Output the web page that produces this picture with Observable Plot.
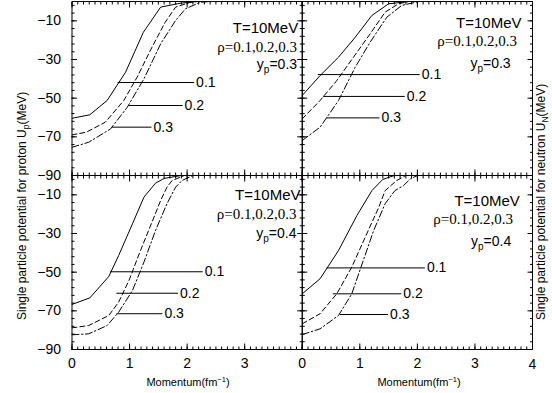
<!DOCTYPE html>
<html><head><meta charset="utf-8">
<script src="https://cdn.jsdelivr.net/npm/d3@7"></script>
<script src="https://cdn.jsdelivr.net/npm/@observablehq/plot@0.6"></script>
<style>
html,body{margin:0;padding:0;background:#fff;}
#chart{position:relative;width:552px;height:393px;}
</style></head><body><div id="chart"></div>
<script>
// ---------------- data ----------------
const particles = ["proton", "neutron"];
const protonFractions = [0.3, 0.4];
const densities = [0.1, 0.2, 0.3];
const xTickLabels = [0, 1, 2, 3, 4];
const yTickLabels = [-90, -70, -50, -30, -10];

// curves: [momentum (fm^-1), U (MeV)]
const proton_y03_r01 = [[0,-60.4],[0.31,-58.6],[0.61,-51.2],[0.93,-36.6],[1.24,-15.9],[1.54,-2.9],[1.88,-0.9],[2.17,0]];
const proton_y03_r02 = [[0,-69.0],[0.25,-67.6],[0.58,-62.4],[0.90,-51.2],[1.13,-39.2],[1.39,-23.6],[1.62,-10.7],[1.80,-2.9],[2.06,-0.4],[2.2,0]];
const proton_y03_r03 = [[0,-75.4],[0.29,-72.8],[0.67,-65.9],[0.96,-54.7],[1.25,-40.0],[1.54,-21.9],[1.80,-9.8],[1.97,-3.8],[2.23,-0.4],[2.4,0]];

const neutron_y03_r01 = [[0,-48.6],[0.31,-38.3],[0.63,-28.8],[0.92,-18.5],[1.21,-7.2],[1.50,-1.2],[1.73,-0.4],[1.85,0]];
const neutron_y03_r02 = [[0,-60.7],[0.31,-51.2],[0.60,-40.9],[0.89,-28.8],[1.18,-16.7],[1.44,-5.5],[1.67,-1.2],[1.85,0]];
const neutron_y03_r03 = [[0,-71.9],[0.31,-65.0],[0.63,-51.2],[0.92,-34.0],[1.18,-21.0],[1.47,-8.1],[1.73,-2.0],[1.97,-0.4],[2.05,0]];

const proton_y04_r01 = [[0,-66.7],[0.31,-63.3],[0.64,-52.2],[0.81,-41.4],[1.05,-25.0],[1.25,-11.2],[1.45,-4.0],[1.60,-1.5],[1.9,0]];
const proton_y04_r02 = [[0,-78.8],[0.29,-77.6],[0.64,-72.4],[0.81,-65.5],[0.99,-54.3],[1.19,-38.8],[1.39,-24.1],[1.54,-12.9],[1.65,-6.0],[1.74,-2.6],[1.95,0]];
const proton_y04_r03 = [[0,-82.4],[0.29,-81.9],[0.61,-77.6],[0.81,-70.7],[1.05,-59.5],[1.25,-44.8],[1.45,-28.5],[1.65,-14.6],[1.80,-6.0],[1.91,-2.6],[2.1,0]];

const neutron_y04_r01 = [[0,-61.2],[0.31,-53.4],[0.63,-38.8],[0.95,-20.7],[1.21,-7.8],[1.40,-2.0],[1.6,0]];
const neutron_y04_r02 = [[0,-76.7],[0.31,-71.5],[0.60,-61.2],[0.86,-47.4],[1.12,-30.2],[1.33,-16.4],[1.44,-7.8],[1.64,-2.6],[1.8,0]];
const neutron_y04_r03 = [[0,-82.3],[0.31,-79.3],[0.63,-72.4],[0.86,-61.2],[1.06,-44.0],[1.24,-28.5],[1.44,-14.6],[1.61,-7.8],[1.76,-5.2],[1.88,-1.7],[2.0,0]];

// label leader lines: [from momentum, to momentum, U] for densities 0.1, 0.2, 0.3
const proton_y03_leaders  = [[0.80,2.13,-41.9],[0.99,1.93,-53.8],[0.70,1.39,-65.0]];
const neutron_y03_leaders = [[0.28,2.05,-37.8],[0.37,1.79,-49.1],[0.43,1.35,-60.2]];
const proton_y04_leaders  = [[0.67,2.28,-49.8],[0.78,1.85,-60.9],[0.78,1.58,-71.5]];
const neutron_y04_leaders = [[0.43,2.14,-47.8],[0.54,1.73,-61.2],[0.66,1.50,-71.9]];

const temperatureText = "T=10MeV";
const densityText = "ρ=0.1,0.2,0.3";

// ---------------- tables ----------------
const curveTable = {
  proton:  {0.3: [proton_y03_r01, proton_y03_r02, proton_y03_r03], 0.4: [proton_y04_r01, proton_y04_r02, proton_y04_r03]},
  neutron: {0.3: [neutron_y03_r01, neutron_y03_r02, neutron_y03_r03], 0.4: [neutron_y04_r01, neutron_y04_r02, neutron_y04_r03]}
};
const leaderTable = {
  proton: {0.3: proton_y03_leaders, 0.4: proton_y04_leaders},
  neutron: {0.3: neutron_y03_leaders, 0.4: neutron_y04_leaders}
};
const curveRows = [], leaderRows = [];
for (const particle of particles) for (const yp of protonFractions) {
  curveTable[particle][yp].forEach((pts, i) => pts.forEach(([p, U]) =>
    curveRows.push({particle, yp, rho: densities[i], p, U})));
  leaderTable[particle][yp].forEach(([x1, x2, U], i) =>
    leaderRows.push({particle, yp, rho: densities[i], x1, x2, U, label: String(densities[i])}));
}

// annotation placement (layout, in data units)
const notePlacement = [
  {particle:"proton",  yp:0.3, tx:3.93, ty:-14.0, rx:3.91, ry:-23.6, px:3.91, py:-32.6},
  {particle:"neutron", yp:0.3, tx:3.81, ty:-11.4, rx:3.73, ry:-20.7, px:3.62, py:-32.3},
  {particle:"proton",  yp:0.4, tx:3.97, ty:-10.3, rx:3.90, ry:-20.2, px:3.90, py:-30.0},
  {particle:"neutron", yp:0.4, tx:3.78, ty:-13.4, rx:3.66, ry:-22.8, px:3.63, py:-34.0}
];

const minorY = d3.range(-90, 0, 4);
const minorX = d3.range(0, 40.5, 1).map(d => d / 10);

const F = {fx: "particle", fy: "yp"};
function yTicks(anchor, values, size) {
  return Plot.axisY({anchor, ticks: values, tickSize: -size, fill: "none", label: null, facetAnchor: null, strokeWidth: 1});
}
function xTicks(anchor, values, size) {
  return Plot.axisX({anchor, ticks: values, tickSize: -size, fill: "none", label: null, facetAnchor: null, strokeWidth: 1});
}
const dash = {0.1: null, 0.2: "5,3", 0.3: "7,2.5,1.5,2.5"};

const chart = Plot.plot({
  width: 552, height: 393,
  marginLeft: 71.5, marginRight: 20, marginTop: 1, marginBottom: 44,
  style: {fontFamily: "'Liberation Sans', Arial, sans-serif", fontSize: "14px", background: "#fff", color: "#000"},
  x: {domain: [0, 4], axis: null},
  y: {domain: [-90, 0], axis: null},
  fx: {domain: particles, padding: 0, axis: null, round: false},
  fy: {domain: protonFractions, padding: 0, axis: null, round: false},
  marks: [
    ...densities.map(r => Plot.line(curveRows.filter(d => d.rho === r), {
      x: "p", y: "U", ...F, stroke: "#000", strokeWidth: 1, strokeDasharray: dash[r], clip: true
    })),
    Plot.ruleY(leaderRows, {y: "U", x1: "x1", x2: "x2", ...F, stroke: "#000", strokeWidth: 1}),
    Plot.text(leaderRows, {x: "x2", y: "U", ...F, text: "label", textAnchor: "start", dx: 1.5, fontSize: 14}),
    Plot.text(notePlacement, {x: "tx", y: "ty", ...F, text: () => temperatureText, textAnchor: "end", fontSize: 15}),
    Plot.text(notePlacement, {x: "rx", y: "ry", ...F, text: () => densityText, textAnchor: "end", fontSize: 15, fontFamily: "'Liberation Serif', 'Times New Roman', serif"}),
    Plot.text(notePlacement, {x: "px", y: "py", ...F, text: d => `y_p=${d.yp}`, textAnchor: "end", fontSize: 14, className: "ypnote"}),
    // inward ticks on all four sides of every panel
    yTicks("left", minorY, 3), yTicks("left", yTickLabels, 5.5),
    yTicks("right", minorY, 3), yTicks("right", yTickLabels, 5.5),
    xTicks("bottom", minorX, 2.5), xTicks("bottom", xTickLabels, 5.5),
    xTicks("top", minorX, 2.5), xTicks("top", xTickLabels, 5.5),
    // tick labels
    Plot.axisY({anchor: "left", ticks: yTickLabels, tickSize: 0, tickPadding: 11, label: null, facetAnchor: "left", fontSize: 14}),
    Plot.axisX({anchor: "bottom", ticks: xTickLabels.slice(0, -1), tickFormat: d3.format("d"), tickSize: 0, tickPadding: 9, label: null, facetAnchor: "bottom", fontSize: 14}),
    Plot.text([{particle: "neutron", yp: 0.4, x: xTickLabels[xTickLabels.length - 1]}], {
      x: "x", ...F, text: d => d3.format("d")(d.x), frameAnchor: "bottom", lineAnchor: "top", dy: 9.5, fontSize: 14
    }),
    Plot.frame({stroke: "#000", strokeWidth: 1})
  ]
});
document.getElementById("chart").appendChild(chart);

// subscripts for y_p annotations
d3.select(chart).selectAll(".ypnote text").each(function() {
  const s = this.textContent;
  const [a, rest] = s.split("_");
  const t = d3.select(this);
  t.text(null);
  t.append("tspan").text(a);
  t.append("tspan").attr("dy", 4).attr("font-size", 10).text(rest.slice(0, 1));
  t.append("tspan").attr("dy", -4).text(rest.slice(1));
});

// axis titles
const svg = d3.select(chart);
function yTitle(x, main, sub) {
  const t = svg.append("text").attr("transform", `translate(${x},320) rotate(-90)`)
    .attr("text-anchor", "start").attr("font-size", 12)
    .attr("font-family", "'Liberation Sans', Arial, sans-serif").attr("fill", "#000");
  t.append("tspan").text(main);
  t.append("tspan").attr("dy", 3).attr("font-size", 8.5).text(sub);
  t.append("tspan").attr("dy", -3).text("(MeV)");
}
yTitle(26, "Single particle potential for proton U", "p");
yTitle(545, "Single particle potential for neutron U", "N");
function xTitle(cx) {
  const t = svg.append("text").attr("x", cx).attr("y", 386).attr("text-anchor", "middle")
    .attr("font-size", 11).attr("font-family", "'Liberation Sans', Arial, sans-serif").attr("fill", "#000");
  t.append("tspan").text("Momentum(fm");
  t.append("tspan").attr("dy", -4).attr("font-size", 7.5).text("−1");
  t.append("tspan").attr("dy", 4).text(")");
}
xTitle(188);
xTitle(419);
</script></body></html>
